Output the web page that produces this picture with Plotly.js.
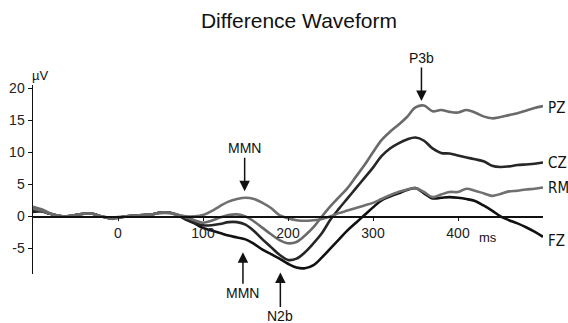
<!DOCTYPE html>
<html>
<head>
<meta charset="utf-8">
<script src="https://cdn.plot.ly/plotly-3.0.1.min.js"></script>
<style>html,body{margin:0;padding:0;background:#fff;}#chart{width:568px;height:323px;}</style>
</head>
<body>
<div id="chart"></div>
<script>
// Time (ms) samples
const timeMs = [-100,-90,-80,-70,-60,-50,-40,-30,-20,-10,0,10,20,30,40,50,60,70,80,90,
  100,110,120,130,140,150,160,170,180,190,200,210,220,230,240,250,260,270,280,290,
  300,310,320,330,340,350,360,370,380,390,400,410,420,430,440,450,460,470,480,490,500];

// Amplitudes (µV)
const pz = [1.5,1.1,0.5,0.1,0.0,0.2,0.4,0.4,0.0,-0.3,-0.2,0.0,0.1,0.2,0.3,0.6,0.6,0.3,-0.2,-0.6,
  -1.0,-0.7,-0.2,0.2,0.3,0.0,-0.8,-1.8,-2.8,-3.7,-4.2,-4.0,-3.0,-1.7,0.0,1.6,3.0,4.4,6.2,8.0,
  10.0,11.9,13.2,14.3,15.5,17.0,17.3,16.4,16.6,16.3,16.2,16.6,16.2,15.6,15.3,15.5,15.8,16.1,16.5,16.9,17.2];
const cz = [0.8,0.8,0.4,0.1,0.0,0.2,0.4,0.4,0.0,-0.3,-0.2,0.0,0.1,0.2,0.3,0.6,0.6,0.2,-0.5,-1.0,
  -1.4,-1.4,-1.2,-0.9,-0.9,-1.3,-2.3,-3.6,-4.8,-6.0,-6.8,-6.6,-5.6,-4.2,-2.6,-0.5,1.2,2.8,4.4,6.0,
  7.6,9.4,10.6,11.4,12.0,12.3,11.8,10.6,9.9,9.8,9.5,9.2,8.9,8.6,7.9,7.7,7.8,8.0,8.1,8.2,8.4];
const rm = [1.2,0.9,0.4,0.1,0.0,0.2,0.4,0.4,0.0,-0.2,-0.1,0.0,0.1,0.2,0.3,0.5,0.5,0.2,0.0,0.0,
  0.2,0.8,1.6,2.3,2.7,2.9,2.7,2.1,1.3,0.2,-0.3,-0.6,-0.7,-0.6,-0.4,0.0,0.5,0.9,1.3,1.7,
  2.1,2.7,3.3,3.8,4.2,4.4,3.8,3.0,3.4,3.8,3.8,4.3,4.0,3.6,3.2,3.5,3.9,4.0,4.2,4.3,4.5];
const fz = [0.7,0.8,0.4,0.1,0.0,0.2,0.4,0.4,0.0,-0.3,-0.2,0.0,0.1,0.2,0.3,0.6,0.6,0.2,-0.5,-1.1,
  -1.8,-2.2,-2.6,-3.0,-3.3,-3.6,-4.3,-5.2,-5.9,-6.6,-7.4,-8.0,-8.1,-7.6,-6.4,-5.0,-3.6,-2.2,-1.0,0.2,
  1.4,2.5,3.1,3.6,4.1,4.4,3.6,2.8,2.9,3.0,2.9,2.7,2.4,1.7,0.9,0.0,-0.6,-1.1,-1.7,-2.4,-3.2];

const seriesNames = ['FZ','CZ','RM','PZ'];
const seriesData = [fz, cz, rm, pz];
const seriesColors = ['#111111','#262626','#707070','#6a6a6a'];
// Right-hand label heights (µV)
const labelValues = [-3.9, 8.3, 4.4, 16.9];

const xTicks = [0,100,200,300,400];
const yTicks = [-5,0,5,10,15,20];
const yRange = [-9, 20.5];

const traces = seriesNames.map((n,i)=>({
  x: timeMs, y: seriesData[i], type:'scatter', mode:'lines', name:n,
  line:{color:seriesColors[i], width:2.6, shape:'spline', smoothing:1},
  hoverinfo:'skip'
}));

const annFont = {family:'Liberation Sans, Arial, sans-serif', size:14, color:'#111'};
const lblFont = {family:'DejaVu Sans Condensed, Liberation Sans Narrow, sans-serif', size:15, color:'#111'};
const toPaperY = v => (v - yRange[0]) / (yRange[1] - yRange[0]);

const rightLabels = seriesNames.map((n,i)=>({x:1.006, y:toPaperY(labelValues[i]), xref:'paper', yref:'paper',
  text:n, showarrow:false, xanchor:'left', yanchor:'middle', font:lblFont}));

const arrows = [
  {x:357, y:18.0, ay:-43, text:'P3b'},
  {x:149, y:3.9, ay:-43, text:'MMN'},
  {x:147, y:-5.6, ay:41, text:'MMN'},
  {x:191, y:-8.75, ay:44, text:'N2b'}
].map(o=>({x:o.x, y:o.y, xref:'x', yref:'y', text:o.text, showarrow:true, ax:0, ay:o.ay,
  arrowhead:2, arrowsize:1.4, arrowwidth:1.5, arrowcolor:'#111', font:annFont, standoff:0}));

const extra = [
  {x:0.014, y:toPaperY(22), xref:'paper', yref:'paper', text:'µV', showarrow:false, xanchor:'center', yanchor:'middle',
    font:{family:'Liberation Sans, Arial, sans-serif', size:13, color:'#111'}},
  {x:435, y:-3.3, xref:'x', yref:'y', text:'ms', showarrow:false, font:{family:'Liberation Sans, Arial, sans-serif', size:13, color:'#111'}}
];

const layout = {
  width:568, height:323,
  margin:{l:33, r:25, t:85, b:49},
  paper_bgcolor:'#fff', plot_bgcolor:'#fff',
  showlegend:false,
  title:{text:'Difference Waveform', x:299/568, xref:'container', xanchor:'center', y:1-21/323, yref:'container', yanchor:'middle',
    font:{family:'Liberation Sans, Arial, sans-serif', size:21, color:'#111'}},
  xaxis:{range:[-100,500], tickvals:xTicks, ticktext:xTicks.map(String), showgrid:false, zeroline:false,
    showline:true, linecolor:'#111', linewidth:1.5, ticks:'outside', ticklen:3, tickcolor:'#111',
    anchor:'free', position:toPaperY(0),
    tickfont:{family:'Liberation Sans, Arial, sans-serif', size:14, color:'#222'}},
  yaxis:{range:yRange, tickvals:yTicks, ticktext:yTicks.map(String), showgrid:false, zeroline:false,
    showline:true, linecolor:'#111', linewidth:1.5, ticks:'outside', ticklen:4, tickcolor:'#111',
    tickfont:{family:'Liberation Sans, Arial, sans-serif', size:14, color:'#222'}},
  annotations: rightLabels.concat(arrows, extra)
};

Plotly.newPlot('chart', traces, layout, {staticPlot:true, displayModeBar:false});
</script>
</body>
</html>
